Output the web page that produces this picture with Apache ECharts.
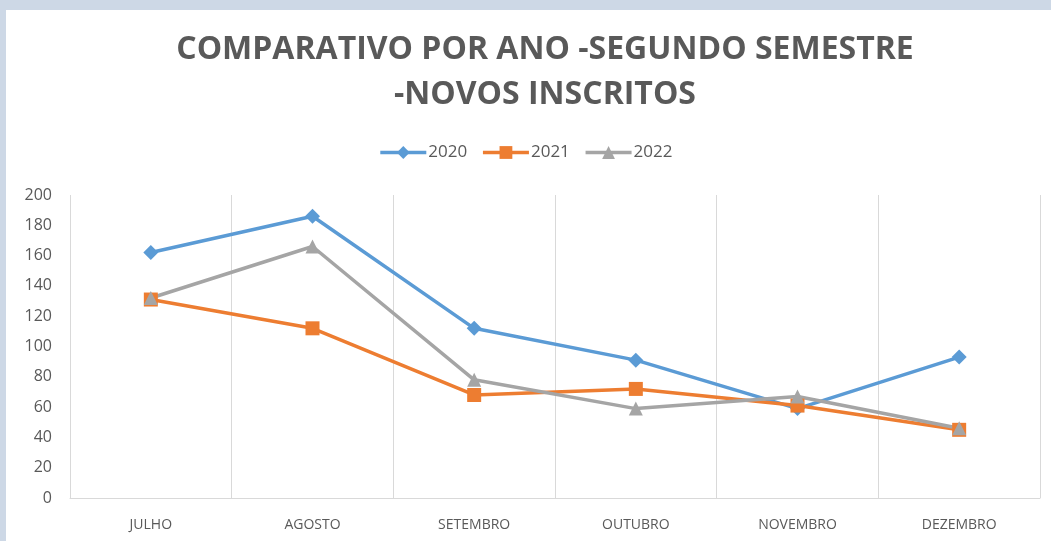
<!DOCTYPE html>
<html>
<head>
<meta charset="utf-8">
<script src="https://cdn.jsdelivr.net/npm/echarts@6/dist/echarts.min.js"></script>
<style>
html,body{margin:0;padding:0;background:#fff;}
#chart{width:1051px;height:541px;}
</style>
</head>
<body>
<div id="chart"></div>
<script>
const categories = ['JULHO','AGOSTO','SETEMBRO','OUTUBRO','NOVEMBRO','DEZEMBRO'];
const s2020 = [162, 186, 112, 91, 59, 93];
const s2021 = [131, 112, 68, 72, 61, 45];
const s2022 = [132, 166, 78, 59, 67, 46];
const yTicks = [0, 20, 40, 60, 80, 100, 120, 140, 160, 180, 200];

const chart = echarts.init(document.getElementById('chart'));
const txt = '#595959';
const font = '"Open Sans", "Liberation Sans", sans-serif';
function ser(name, data, color, symbol, size) {
  return {
    name, type: 'line', data, symbol, symbolSize: size,
    lineStyle: {width: 3.5, color},
    itemStyle: {color},
    emphasis: {disabled: true},
    z: 3
  };
}
chart.setOption({
  animation: false,
  graphic: [
    {type: 'rect', shape: {x: 0, y: 0, width: 1051, height: 10}, style: {fill: '#cdd8e6'}, silent: true},
    {type: 'rect', shape: {x: 0, y: 0, width: 6, height: 541}, style: {fill: '#cdd8e6'}, silent: true}
  ],
  title: {
    text: 'COMPARATIVO POR ANO -SEGUNDO SEMESTRE\n-NOVOS INSCRITOS',
    left: 540, top: 22, textAlign: 'center',
    textStyle: {fontFamily: font, fontWeight: 'bold', fontSize: 32, color: txt, lineHeight: 45}
  },
  legend: {
    data: ['2020', '2021', '2022'],
    top: 139, left: 'center',
    itemWidth: 46, itemHeight: 16, itemGap: 14,
    lineStyle: {width: 3.5},
    textStyle: {fontFamily: font, fontSize: 17, color: txt, padding: [0, 0, 0, -3]}
  },
  grid: {left: 70, right: 11, top: 195, bottom: 43},
  xAxis: {
    type: 'category', data: categories, boundaryGap: true,
    axisLine: {show: true, lineStyle: {color: '#d9d9d9', width: 1}},
    axisTick: {show: false},
    splitLine: {show: true, lineStyle: {color: '#d9d9d9', width: 1}},
    axisLabel: {fontFamily: font, fontSize: 14, color: txt, margin: 20}
  },
  yAxis: {
    type: 'value', min: yTicks[0], max: yTicks[yTicks.length - 1], interval: 20,
    axisLine: {show: false}, axisTick: {show: false},
    splitLine: {show: false},
    axisLabel: {fontFamily: font, fontSize: 16, color: txt, margin: 18}
  },
  series: [
    ser('2020', s2020, '#5b9bd5', 'diamond', 15),
    ser('2021', s2021, '#ed7d31', 'rect', 14),
    ser('2022', s2022, '#a5a5a5', 'triangle', 14)
  ]
});
</script>
</body>
</html>
